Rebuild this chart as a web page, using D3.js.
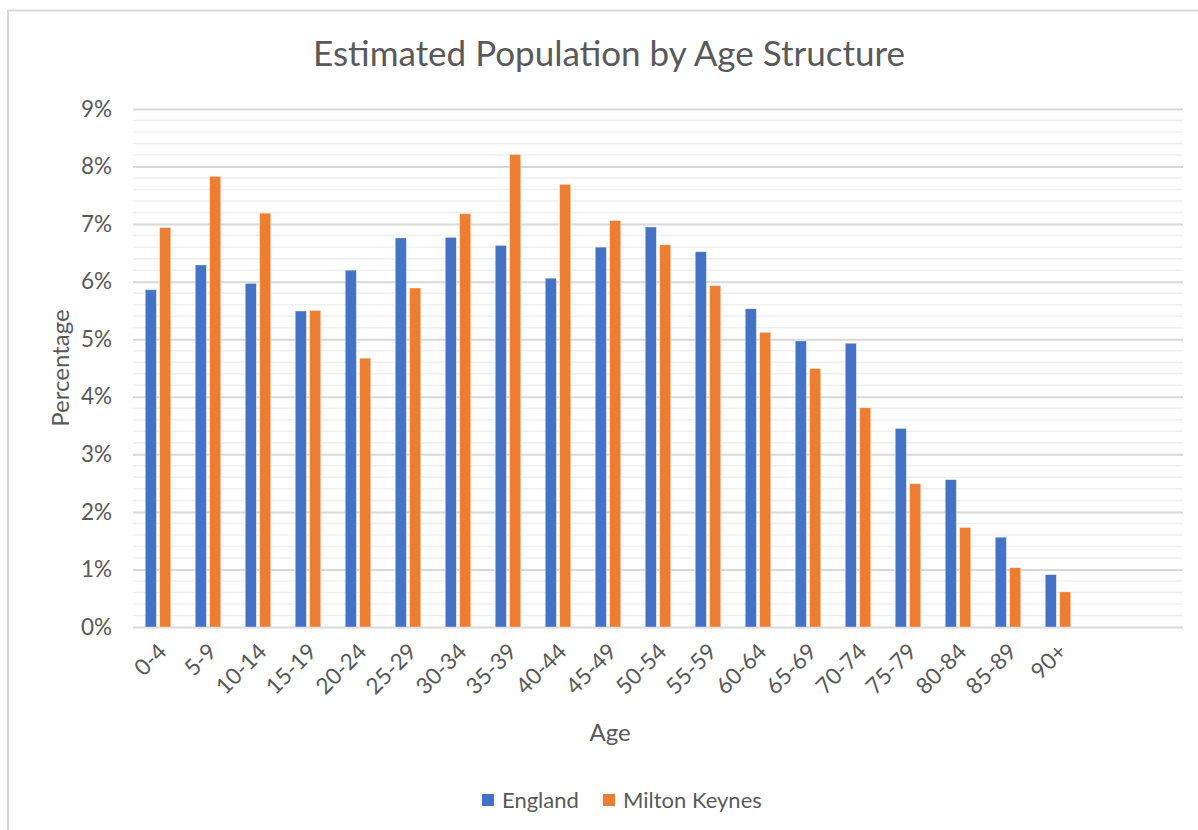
<!DOCTYPE html>
<html>
<head>
<meta charset="utf-8">
<script src="https://cdn.jsdelivr.net/npm/d3@7"></script>
<style>
  html, body { margin: 0; padding: 0; background: #fff; }
  svg { display: block; }
  text { font-family: Lato, "Open Sans", sans-serif; fill: #595959; }
</style>
</head>
<body>
<svg id="chart" width="1198" height="830"></svg>
<script>
// ---- data ----
const ageGroups = ["0-4","5-9","10-14","15-19","20-24","25-29","30-34","35-39","40-44","45-49","50-54","55-59","60-64","65-69","70-74","75-79","80-84","85-89","90+"];
const emptySlots = 2; // chart range includes two empty categories after 90+
const seriesNames = ["England", "Milton Keynes"];
const england =      [5.86, 6.29, 5.97, 5.49, 6.20, 6.76, 6.77, 6.63, 6.06, 6.60, 6.95, 6.52, 5.53, 4.97, 4.93, 3.45, 2.56, 1.56, 0.91];
const miltonKeynes = [6.94, 7.83, 7.19, 5.50, 4.67, 5.89, 7.18, 8.21, 7.69, 7.06, 6.64, 5.93, 5.12, 4.49, 3.81, 2.49, 1.73, 1.03, 0.61];
const yTicks = [0, 1, 2, 3, 4, 5, 6, 7, 8, 9];
const seriesColors = ["#4472C4", "#ED7D31"];

const svg = d3.select("#chart");

// chart border
svg.append("rect").attr("x", 8).attr("y", 10.5).attr("width", 1200).attr("height", 830)
  .attr("fill", "none").attr("stroke", "#d9d9d9").attr("stroke-width", 2);

const plot = { left: 133, right: 1183, top: 109, bottom: 627 };

const slots = d3.range(ageGroups.length + emptySlots);
const x = d3.scaleBand().domain(slots).range([plot.left, plot.right])
  .paddingInner(0.49).paddingOuter(0.245);
const xs = d3.scaleBand().domain(seriesNames).range([0, x.bandwidth()]).paddingInner(0.23);
const y = d3.scaleLinear().domain([0, 9]).range([plot.bottom, plot.top]);

// minor gridlines
const minor = d3.range(0, 9.001, 0.2).filter(v => Math.abs(v - Math.round(v)) > 1e-6);
svg.append("g").selectAll("line").data(minor).join("line")
  .attr("x1", plot.left).attr("x2", plot.right)
  .attr("y1", d => y(d)).attr("y2", d => y(d))
  .attr("stroke", "#f0f0f0").attr("stroke-width", 1.5);

// major gridlines + axis
const yAxis = d3.axisLeft(y).tickValues(yTicks).tickFormat(d => d + "%")
  .tickSize(-(plot.right - plot.left)).tickPadding(21);
const gy = svg.append("g").attr("transform", `translate(${plot.left},0)`).call(yAxis);
gy.select(".domain").remove();
gy.selectAll(".tick line").attr("stroke", "#d9d9d9").attr("stroke-width", 2);
gy.selectAll(".tick text").attr("font-size", 22.5).style("font-family", "Lato, sans-serif").attr("fill", "#595959");

// bars
const data = ageGroups.map((a, i) => ({ i, age: a, vals: [england[i], miltonKeynes[i]] }));
const groups = svg.append("g").selectAll("g").data(data).join("g")
  .attr("transform", d => `translate(${x(d.i)},0)`);
groups.selectAll("rect").data(d => d.vals.map((v, k) => ({ v, k })))
  .join("rect")
  .attr("x", d => xs(seriesNames[d.k]))
  .attr("width", xs.bandwidth())
  .attr("y", d => y(d.v))
  .attr("height", d => y(0) - y(d.v))
  .attr("fill", d => seriesColors[d.k])
  .attr("stroke", "#fff").attr("stroke-opacity", 0.5).attr("stroke-width", 0.75);

// x axis labels
const xAxis = d3.axisBottom(x).tickSize(0).tickFormat(i => ageGroups[i] || "");
const gx = svg.append("g").attr("transform", `translate(0,${plot.bottom})`).call(xAxis);
gx.select(".domain").remove();
gx.selectAll(".tick text")
  .attr("font-size", 22.5).style("font-family", "Lato, sans-serif").attr("fill", "#595959")
  .attr("text-anchor", "end")
  .attr("dy", 0)
  .attr("y", 0)
  .attr("transform", "translate(10,26) rotate(-45)");

// title
svg.append("text").attr("x", 609).attr("y", 66).attr("text-anchor", "middle")
  .attr("font-size", 35).text("Estimated Population by Age Structure");

// axis titles
svg.append("text").attr("x", 610).attr("y", 741).attr("text-anchor", "middle")
  .attr("font-size", 24).text("Age");
svg.append("text").attr("transform", "translate(69,368) rotate(-90)").attr("text-anchor", "middle")
  .attr("font-size", 24).text("Percentage");

// legend
const legend = svg.append("g");
const legendItems = [{ name: seriesNames[0], x: 482 }, { name: seriesNames[1], x: 603 }];
legendItems.forEach((it, k) => {
  legend.append("rect").attr("x", it.x).attr("y", 794).attr("width", 12).attr("height", 12)
    .attr("fill", seriesColors[k]);
  legend.append("text").attr("x", it.x + 20).attr("y", 808).attr("font-size", 22).text(it.name);
});
</script>
</body>
</html>
